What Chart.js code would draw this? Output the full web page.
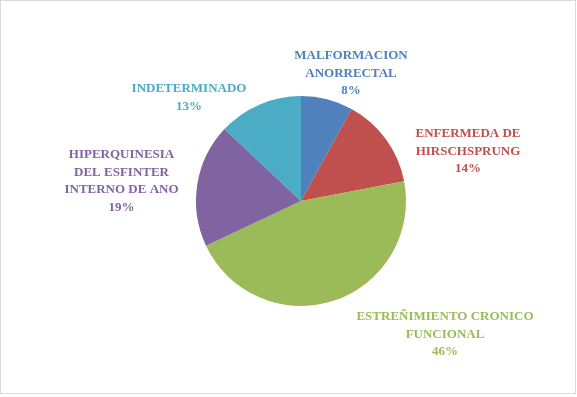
<!DOCTYPE html>
<html>
<head>
<meta charset="utf-8">
<script src="https://cdn.jsdelivr.net/npm/chart.js@4/dist/chart.umd.min.js"></script>
<style>
html,body{margin:0;padding:0;background:#fff;}
#wrap{width:577px;height:397px;position:relative;}
</style>
</head>
<body>
<div id="wrap"><canvas id="c" width="577" height="397"></canvas></div>
<script>
const categories = [
  "MALFORMACION\nANORRECTAL",
  "ENFERMEDA DE\nHIRSCHSPRUNG",
  "ESTREÑIMIENTO CRONICO\nFUNCIONAL",
  "HIPERQUINESIA\nDEL ESFINTER\nINTERNO DE ANO",
  "INDETERMINADO"
];
const values = [8, 14, 46, 19, 13];
const colors = ["#4F81BD", "#C0504D", "#9BBB59", "#8064A2", "#4BACC6"];
// label block centre offsets from pie centre (layout only)
const labelOffsets = [[50, -127.5], [167, -49.5], [144, 133.5], [-179.5, -20], [-112, -103.5]];

const labelPlugin = {
  id: 'labels',
  beforeDraw(chart) {
    const ctx = chart.ctx;
    ctx.save();
    ctx.fillStyle = '#fff';
    ctx.fillRect(0, 0, chart.width, chart.height);
    ctx.strokeStyle = '#D9D9D9';
    ctx.lineWidth = 1;
    ctx.strokeRect(0.5, 0.5, 575, 393);
    ctx.restore();
  },
  afterDatasetsDraw(chart) {
    const ctx = chart.ctx;
    const meta = chart.getDatasetMeta(0);
    const total = values.reduce((a, b) => a + b, 0);
    ctx.save();
    ctx.font = 'bold 13px "Liberation Serif", "Times New Roman", serif';
    ctx.textAlign = 'center';
    ctx.textBaseline = 'middle';
    const lh = 17.5;
    meta.data.forEach((arc, i) => {
      const lines = categories[i].split('\n');
      lines.push(Math.round(values[i] / total * 100) + '%');
      const cx = arc.x + labelOffsets[i][0];
      const cy = arc.y + labelOffsets[i][1];
      const y0 = cy - (lines.length - 1) * lh / 2;
      ctx.fillStyle = colors[i];
      lines.forEach((t, k) => ctx.fillText(t, cx, y0 + k * lh));
    });
    ctx.restore();
  }
};

new Chart(document.getElementById('c'), {
  type: 'pie',
  data: {
    labels: categories,
    datasets: [{
      data: values,
      backgroundColor: colors,
      borderWidth: 0
    }]
  },
  options: {
    responsive: false,
    devicePixelRatio: 1,
    animation: false,
    layout: { padding: { top: 96, bottom: 91, left: 196, right: 171 } },
    plugins: { legend: { display: false }, tooltip: { enabled: false } }
  },
  plugins: [labelPlugin]
});
</script>
</body>
</html>
